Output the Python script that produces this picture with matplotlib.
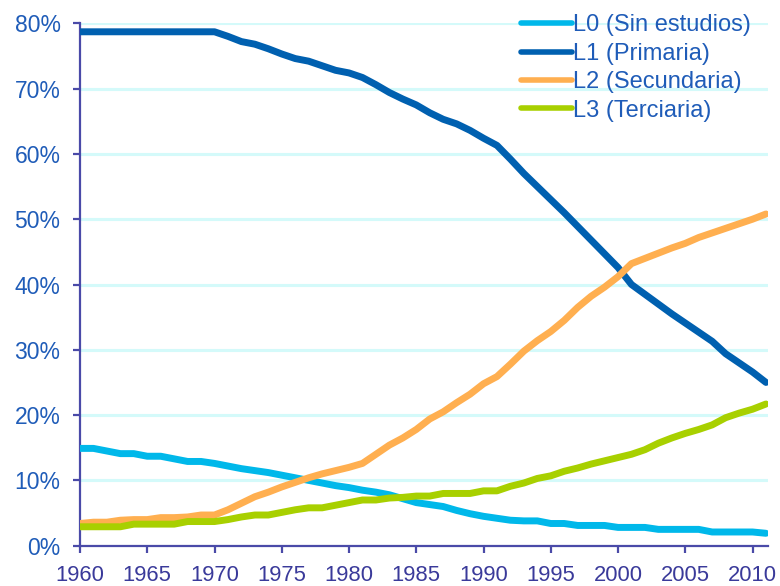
import matplotlib
matplotlib.use("Agg")
import matplotlib.pyplot as plt
from matplotlib.ticker import FuncFormatter, MultipleLocator

years = list(range(1960, 2012))

l0_sin_estudios = [14.9, 14.9, 14.5, 14.1, 14.1, 13.7, 13.7, 13.3, 12.9, 12.9,
                   12.6, 12.2, 11.8, 11.5, 11.2, 10.8, 10.4, 10.0, 9.6, 9.2,
                   8.9, 8.5, 8.2, 7.8, 7.2, 6.6, 6.3, 6.0, 5.4, 4.9,
                   4.5, 4.2, 3.9, 3.8, 3.8, 3.4, 3.4, 3.1, 3.1, 3.1,
                   2.8, 2.8, 2.8, 2.5, 2.5, 2.5, 2.5, 2.1, 2.1, 2.1,
                   2.1, 1.9]
l1_primaria = [78.7, 78.7, 78.7, 78.7, 78.7, 78.7, 78.7, 78.7, 78.7, 78.7,
               78.7, 78.0, 77.2, 76.8, 76.1, 75.3, 74.6, 74.2, 73.5, 72.8,
               72.4, 71.7, 70.6, 69.4, 68.4, 67.5, 66.3, 65.3, 64.6, 63.6,
               62.4, 61.3, 59.2, 57.0, 55.0, 53.0, 51.0, 48.9, 46.8, 44.7,
               42.6, 40.0, 38.5, 37.0, 35.5, 34.1, 32.7, 31.3, 29.4, 28.0,
               26.6, 25.0]
l2_secundaria = [3.4, 3.6, 3.6, 3.9, 4.0, 4.0, 4.3, 4.3, 4.4, 4.7,
                 4.7, 5.5, 6.5, 7.5, 8.2, 9.0, 9.7, 10.4, 11.0, 11.5,
                 12.0, 12.6, 14.0, 15.4, 16.5, 17.8, 19.4, 20.5, 21.9, 23.2,
                 24.8, 25.9, 27.8, 29.8, 31.4, 32.8, 34.5, 36.5, 38.2, 39.6,
                 41.2, 43.2, 44.0, 44.8, 45.6, 46.3, 47.2, 47.9, 48.6, 49.3,
                 50.0, 50.8]
l3_terciaria = [2.9, 2.9, 2.9, 2.9, 3.3, 3.3, 3.3, 3.3, 3.7, 3.7,
                3.7, 4.0, 4.4, 4.7, 4.7, 5.1, 5.5, 5.8, 5.8, 6.2,
                6.6, 7.0, 7.0, 7.3, 7.4, 7.6, 7.6, 8.0, 8.0, 8.0,
                8.4, 8.4, 9.1, 9.6, 10.3, 10.7, 11.4, 11.9, 12.5, 13.0,
                13.5, 14.0, 14.7, 15.7, 16.5, 17.2, 17.8, 18.5, 19.6, 20.3,
                20.9, 21.7]

labels = ["L0 (Sin estudios)", "L1 (Primaria)", "L2 (Secundaria)", "L3 (Terciaria)"]
colors = ["#00B8EA", "#0060B0", "#FFAF50", "#A8D000"]
series = [l0_sin_estudios, l1_primaria, l2_secundaria, l3_terciaria]

plt.rcParams['font.family'] = ['Liberation Sans', 'DejaVu Sans']

fig = plt.figure(figsize=(7.8, 5.86), dpi=100)
ax = fig.add_axes([80/780, 1-545.7/586, (768-80)/780, (545.7-23.3)/586])

axis_col = "#4A4AA8"
for vals, c, lab in zip(series, colors, labels):
    ax.plot(years, [v/100 for v in vals], color=c, lw=5.0, label=lab,
            solid_capstyle='round', solid_joinstyle='round', zorder=3)

ax.set_xlim(1960, 2011.15)
ax.set_ylim(0, 0.8)
ax.yaxis.set_major_locator(MultipleLocator(0.1))
ax.xaxis.set_major_locator(MultipleLocator(5))
ax.yaxis.set_major_formatter(FuncFormatter(lambda v, p: f"{v*100:.0f}%"))
ax.grid(axis='y', color="#D4FAFA", lw=2.2, zorder=0)
ax.set_axisbelow(True)

for s in ['top', 'right']:
    ax.spines[s].set_visible(False)
for s in ['left', 'bottom']:
    ax.spines[s].set_color(axis_col)
    ax.spines[s].set_linewidth(1.6)

ax.tick_params(axis='y', direction='out', length=5, width=1.6, color=axis_col,
               labelcolor="#1F5CB8", labelsize=16.5, pad=9)
ax.tick_params(axis='x', direction='out', length=5, width=1.6, color=axis_col,
               labelcolor="#3A3A9A", labelsize=15.8, pad=9)

leg = ax.legend(loc='upper left', bbox_to_anchor=(521/780, 1-14.5/586),
                bbox_transform=fig.transFigure, frameon=False, fontsize=17,
                handlelength=2.15, handletextpad=0.05, labelspacing=0.27,
                borderpad=0, borderaxespad=0)
for t in leg.get_texts():
    t.set_color("#1F5CB8")
for ln in leg.get_lines():
    ln.set_linewidth(4.0)
    ln.set_solid_capstyle('round')

fig.savefig("out.png", dpi=100)
